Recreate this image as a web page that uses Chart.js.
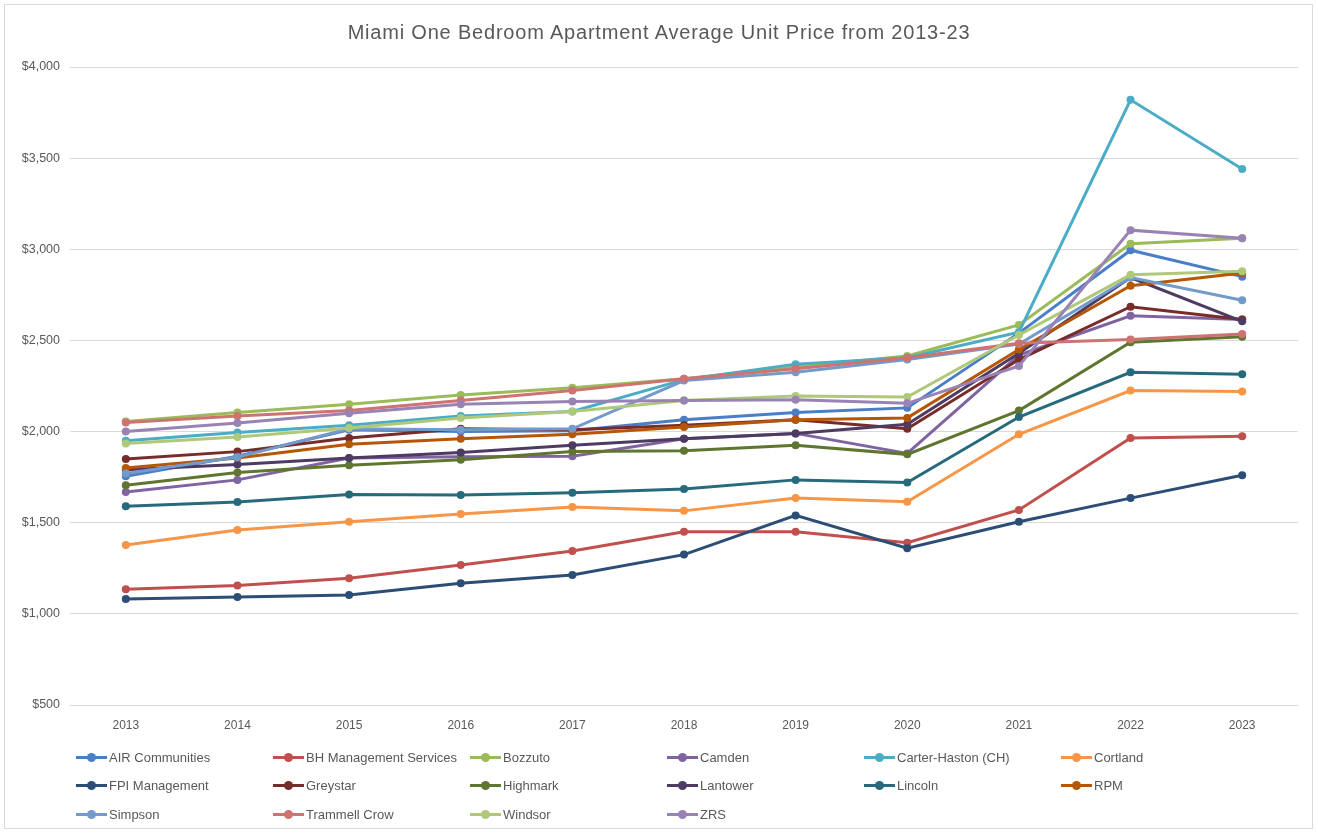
<!DOCTYPE html>
<html>
<head>
<meta charset="utf-8">
<script src="https://cdn.jsdelivr.net/npm/chart.js@4"></script>
<style>
  html, body { margin: 0; padding: 0; background: #fff; }
  #wrap { position: relative; width: 1318px; height: 833px; overflow: hidden; }
  #frame { position: absolute; left: 4px; top: 4px; width: 1309px; height: 825px; border: 1px solid #d9d9d9; box-sizing: border-box; }
  #chart { position: absolute; left: 0; top: 0; }
  #title { position: absolute; left: 0; width: 1318px; top: 21px; text-align: center; letter-spacing: 0.8px;
    font-family: "Liberation Sans", Arial, sans-serif; font-size: 20px; color: #595959; }
  #legend { position: absolute; left: 76px; top: 748px; display: grid;
    grid-template-columns: repeat(6, 197px); grid-auto-rows: 28.5px;
    font-family: "Liberation Sans", Arial, sans-serif; font-size: 13px; color: #595959; }
  .item { display: flex; align-items: center; height: 18px; white-space: nowrap; }
  .mark { position: relative; width: 31px; height: 10px; margin-right: 2px; flex: none; }
  .mark .ln { position: absolute; left: 0; right: 0; top: 3.5px; height: 3px; }
  .mark .dt { position: absolute; left: 11px; top: 0.5px; width: 9px; height: 9px; border-radius: 50%; }
</style>
</head>
<body>
<div id="wrap">
  <div id="frame"></div>
  <canvas id="chart" width="1318" height="833"></canvas>
  <div id="title">Miami One Bedroom Apartment Average Unit Price from 2013-23</div>
  <div id="legend"></div>
</div>
<script>
const years = ['2013', '2014', '2015', '2016', '2017', '2018', '2019', '2020', '2021', '2022', '2023'];

const air = [1755, 1865, 2010, 2000, 2005, 2065, 2105, 2130, 2540, 2995, 2850];
const bh = [1135, 1155, 1195, 1268, 1345, 1450, 1450, 1390, 1570, 1965, 1975];
const bozzuto = [2055, 2105, 2150, 2200, 2240, 2290, 2355, 2415, 2585, 3030, 3060];
const camden = [1668, 1735, 1855, 1862, 1865, 1960, 1990, 1880, 2420, 2635, 2615];
const carterHaston = [1950, 1995, 2035, 2085, 2110, 2285, 2370, 2405, 2545, 3820, 3440];
const cortland = [1378, 1460, 1505, 1548, 1586, 1565, 1635, 1615, 1985, 2225, 2220];
const fpi = [1082, 1093, 1103, 1168, 1213, 1325, 1540, 1360, 1505, 1635, 1760];
const greystar = [1850, 1890, 1965, 2015, 2010, 2035, 2065, 2015, 2395, 2685, 2615];
const highmark = [1705, 1775, 1815, 1845, 1890, 1895, 1925, 1875, 2115, 2490, 2520];
const lantower = [1790, 1820, 1855, 1885, 1925, 1960, 1990, 2040, 2430, 2845, 2605];
const lincoln = [1590, 1614, 1655, 1652, 1665, 1685, 1735, 1720, 2080, 2325, 2315];
const rpm = [1800, 1855, 1930, 1960, 1985, 2025, 2065, 2075, 2450, 2800, 2870];
const simpson = [1770, 1860, 2015, 2010, 2015, 2280, 2325, 2395, 2480, 2845, 2720];
const trammellCrow = [2050, 2085, 2115, 2170, 2225, 2290, 2345, 2405, 2485, 2505, 2535];
const windsor = [1935, 1970, 2020, 2075, 2110, 2170, 2195, 2190, 2530, 2860, 2880];
const zrs = [2000, 2047, 2100, 2150, 2165, 2170, 2175, 2155, 2360, 3105, 3060];

const yTicks = [500, 1000, 1500, 2000, 2500, 3000, 3500, 4000];

const names = ['AIR Communities', 'BH Management Services', 'Bozzuto', 'Camden', 'Carter-Haston (CH)', 'Cortland',
  'FPI Management', 'Greystar', 'Highmark', 'Lantower', 'Lincoln', 'RPM',
  'Simpson', 'Trammell Crow', 'Windsor', 'ZRS'];
const series = [air, bh, bozzuto, camden, carterHaston, cortland, fpi, greystar, highmark, lantower, lincoln, rpm,
  simpson, trammellCrow, windsor, zrs];
const colors = ['#4a7ec6', '#c0504d', '#9bbb59', '#8064a2', '#4bacc6', '#f79646',
  '#2c4d75', '#772c2a', '#5f7530', '#4d3b62', '#276a7c', '#b65708',
  '#729aca', '#cd7371', '#afc97a', '#9983b5'];

// excel draws later series on top
const datasets = series.map((d, i) => ({
  label: names[i],
  data: d,
  borderColor: colors[i],
  backgroundColor: colors[i],
  borderWidth: 3,
  pointRadius: 4,
  pointBorderWidth: 0,
  tension: 0,
  order: series.length - i
}));

const ctx = document.getElementById('chart').getContext('2d');
const chart = new Chart(ctx, {
  type: 'line',
  data: { labels: years, datasets: datasets },
  options: {
    responsive: false,
    animation: false,
    layout: { padding: { top: 67, right: 20, left: 0, bottom: 0 } },
    plugins: { legend: { display: false }, title: { display: false }, tooltip: { enabled: false } },
    scales: {
      x: {
        offset: true,
        grid: { display: false },
        border: { display: false },
        ticks: { color: '#595959', font: { family: 'Liberation Sans', size: 12 }, padding: 5 },
        afterFit: (scale) => { scale.height = 128; }
      },
      y: {
        min: 500,
        max: 4000,
        afterBuildTicks: (scale) => { scale.ticks = yTicks.map(v => ({ value: v })); },
        grid: { color: '#d9d9d9', lineWidth: 1, drawTicks: false },
        border: { display: false },
        ticks: {
          color: '#595959',
          font: { family: 'Liberation Sans', size: 12.5 },
          padding: 10,
          callback: (v) => '$' + v.toLocaleString('en-US')
        },
        afterFit: (scale) => { scale.width = 70; }
      }
    }
  }
});

const legend = document.getElementById('legend');
names.forEach((n, i) => {
  const item = document.createElement('div');
  item.className = 'item';
  item.innerHTML = '<span class="mark"><span class="ln" style="background:' + colors[i] + '"></span>' +
    '<span class="dt" style="background:' + colors[i] + '"></span></span><span>' + n + '</span>';
  legend.appendChild(item);
});
</script>
</body>
</html>
